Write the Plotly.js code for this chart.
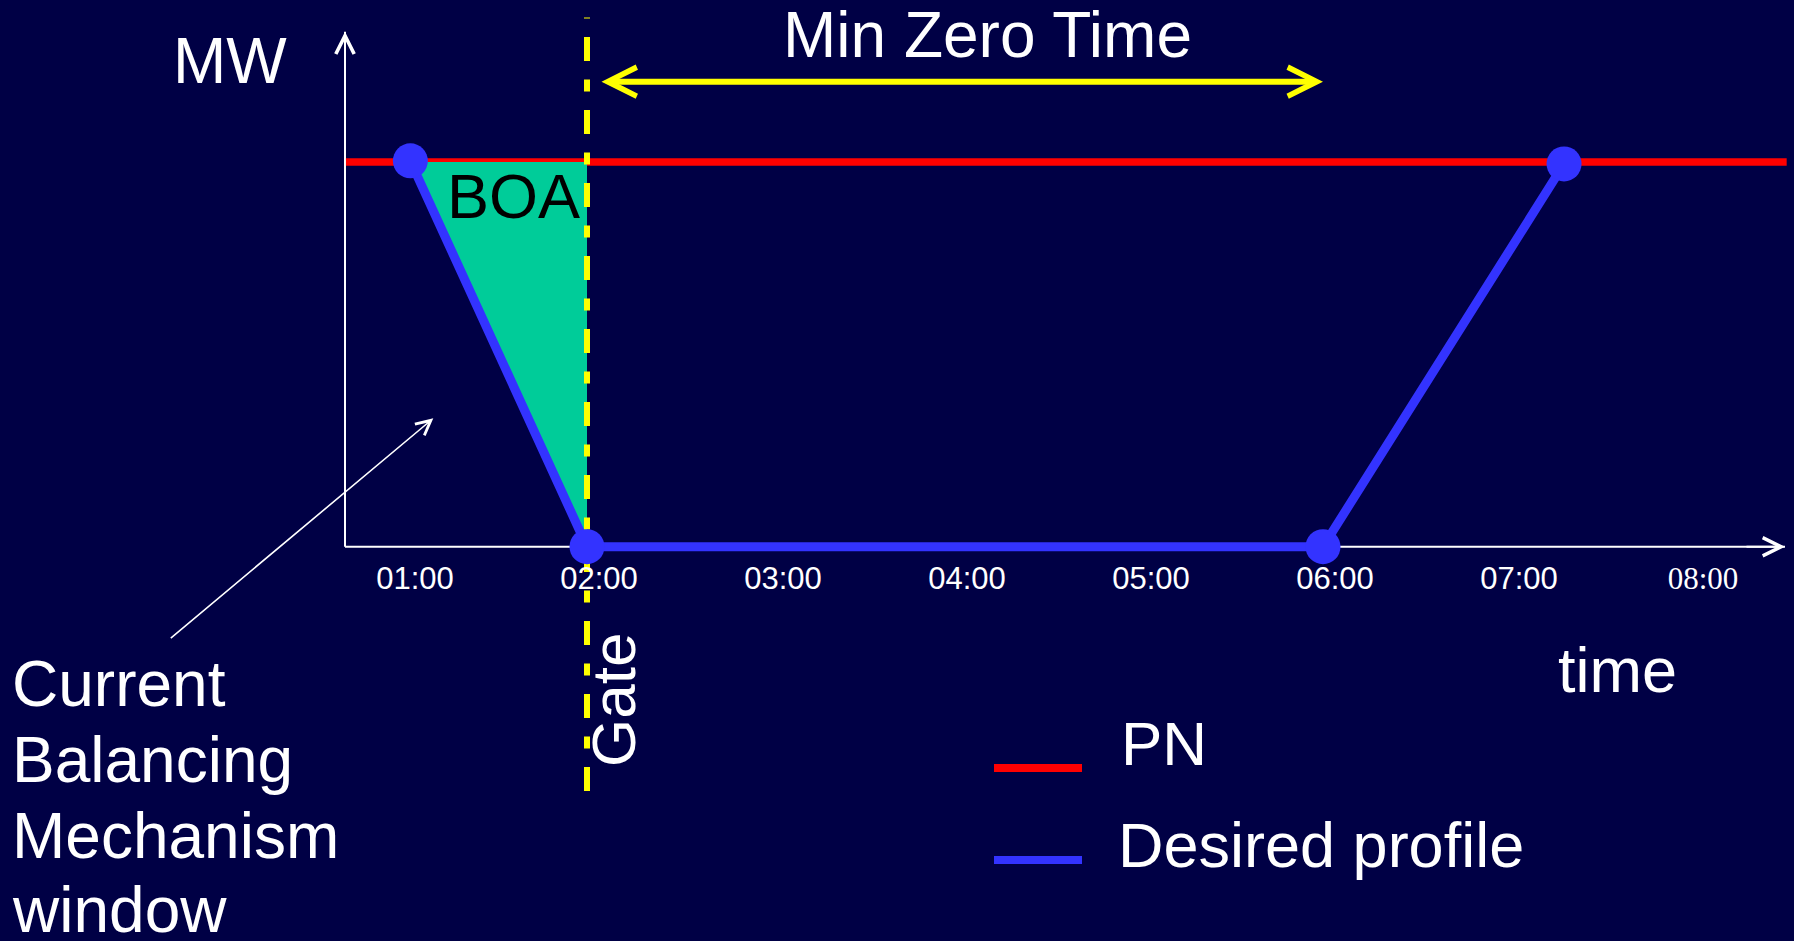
<!DOCTYPE html>
<html>
<head>
<meta charset="utf-8">
<script src="https://cdn.plot.ly/plotly-3.0.1.min.js"></script>
<style>
html,body{margin:0;padding:0;background:#000045;overflow:hidden;}
#chart{width:1794px;height:941px;}
</style>
</head>
<body>
<div id="chart"></div>
<script>
// ---------------- data ----------------
const tickHours  = [1, 2, 3, 4, 5, 6, 7, 8];
const tickLabels = ['01:00', '02:00', '03:00', '04:00', '05:00', '06:00', '07:00', '08:00'];

// Physical Notification (PN) level, MW
const pnHours = [0.69, 8.52];
const pnMW    = [100, 100];

// Desired profile (MW vs hours)
const profileHours = [1.04, 2, 6, 7.31];
const profileMW    = [100.3, 0, 0, 99.5];

// Gate closure and end of minimum zero time
const gateHour        = 2;
const minZeroEndHour  = 6;

// ---------------- layout helpers ----------------
const W = 1794, H = 941;
const PX = x => x / W;          // pixel -> paper x
const PY = y => 1 - y / H;      // pixel -> paper y

// axis scale (hours / MW) chosen so the whole figure is the plotting area
const xRange = [-1.1902, 8.5598];
const yRange = [-102.50, 142.11];
const yAt = py => yRange[1] - (py / H) * (yRange[1] - yRange[0]);
const xAt = px => xRange[0] + (px / W) * (xRange[1] - xRange[0]);

const axisHour = xAt(345);
const yTopMW   = yAt(31.7);
const xTipHour = xAt(1785);

const FONT = '"Liberation Sans", Arial, sans-serif';
const WHITE = '#FFFFFF';
const BLUE = '#3333FF';
const RED = '#FF0000';
const YELLOW = '#FFFF00';
const GREEN = '#00CC99';
const BG = '#000045';

const lastLabel = tickLabels.length - 1;
const tickText = tickLabels.map((t, i) =>
  i === lastLabel ? '<span style="font-family:\'Liberation Serif\', \'Times New Roman\', serif">' + t + '</span>' : t);

// ---------------- traces ----------------
const traces = [
  { // PN
    x: pnHours, y: pnMW, mode: 'lines', type: 'scatter',
    line: {color: RED, width: 7.5}, hoverinfo: 'skip', showlegend: false
  },
  { // BOA area between PN and desired profile up to the gate
    x: [profileHours[0], gateHour, profileHours[1]],
    y: [pnMW[0], pnMW[0], profileMW[1]],
    mode: 'lines', type: 'scatter', fill: 'toself', fillcolor: GREEN,
    line: {width: 0, color: GREEN}, hoverinfo: 'skip', showlegend: false
  },
  { // Gate line
    x: [gateHour, gateHour], y: [yAt(791), yAt(17.5)],
    mode: 'lines', type: 'scatter',
    line: {color: YELLOW, width: 6, dash: '24px,18.5px,12px,18.5px'},
    hoverinfo: 'skip', showlegend: false
  },
  { // Desired profile
    x: profileHours, y: profileMW, mode: 'lines+markers', type: 'scatter',
    line: {color: BLUE, width: 9},
    marker: {color: BLUE, size: 35, line: {width: 0}},
    hoverinfo: 'skip', showlegend: false, cliponaxis: false
  }
];

// ---------------- annotations ----------------
const txt = (text, x, y, size, opts) => Object.assign({
  text: text, xref: 'paper', yref: 'paper', x: PX(x), y: PY(y),
  xanchor: 'center', yanchor: 'middle', showarrow: false,
  font: {family: FONT, size: size, color: WHITE}
}, opts || {});

const annotations = [
  // y axis arrow head
  {x: axisHour, y: yTopMW, xref: 'x', yref: 'y', ax: 0, ay: 40,
   text: '', showarrow: true, arrowhead: 5, arrowsize: 1.8, arrowwidth: 2, arrowcolor: WHITE},
  // x axis arrow head
  {x: xTipHour, y: 0, xref: 'x', yref: 'y', ax: -40, ay: 0,
   text: '', showarrow: true, arrowhead: 5, arrowsize: 1.8, arrowwidth: 2, arrowcolor: WHITE},
  // Min Zero Time double arrow
  {x: minZeroEndHour, y: yAt(81.7), ax: gateHour, ay: yAt(81.7), xref: 'x', yref: 'y', axref: 'x', ayref: 'y',
   text: '', showarrow: true, arrowside: 'end+start', arrowhead: 5, startarrowhead: 5,
   arrowsize: 0.95, startarrowsize: 0.95, arrowwidth: 6, arrowcolor: YELLOW, startstandoff: 13},
  // pointer to the balancing mechanism window
  {x: xAt(433.3), y: yAt(418.3), xref: 'x', yref: 'y', ax: -264, ay: 221,
   text: '', showarrow: true, arrowhead: 5, arrowsize: 1.8, arrowwidth: 1.6, arrowcolor: WHITE},

  txt('MW', 229.5, 61.5, 64),
  txt('Min Zero Time', 987.5, 35, 64),
  txt('BOA', 513, 195.5, 63, {font: {family: FONT, size: 63, color: '#000000'}}),
  txt('Gate', 613, 700, 62, {textangle: -90}),
  txt('time', 1617.5, 670, 63),
  txt('PN', 1119, 743.5, 62, {xanchor: 'left'}),
  txt('Desired profile', 1116, 844.5, 63, {xanchor: 'left'}),
  txt('Current', 10, 684, 64, {xanchor: 'left'}),
  txt('Balancing', 10, 760, 64, {xanchor: 'left'}),
  txt('Mechanism', 10, 836, 64, {xanchor: 'left'}),
  txt('window', 10, 910, 64, {xanchor: 'left'})
];

// ---------------- axis lines (below traces) and legend samples ----------------
const shapes = [
  {type: 'line', xref: 'x', yref: 'y', x0: axisHour, x1: xTipHour, y0: 0, y1: 0,
   line: {color: WHITE, width: 2}, layer: 'below'},
  {type: 'line', xref: 'x', yref: 'y', x0: axisHour, x1: axisHour, y0: 0, y1: yTopMW,
   line: {color: WHITE, width: 2}, layer: 'below'},
  {type: 'line', xref: 'paper', yref: 'paper', x0: PX(994), x1: PX(1082), y0: PY(768), y1: PY(768),
   line: {color: RED, width: 8}},
  {type: 'line', xref: 'paper', yref: 'paper', x0: PX(994), x1: PX(1082), y0: PY(860), y1: PY(860),
   line: {color: BLUE, width: 8}}
];

const layout = {
  width: W, height: H,
  margin: {l: 0, r: 0, t: 0, b: 0, pad: 0},
  paper_bgcolor: BG, plot_bgcolor: BG,
  showlegend: false,
  xaxis: {
    range: xRange, showgrid: false, zeroline: false, showline: false, ticks: '',
    tickmode: 'array', tickvals: tickHours, ticktext: tickText,
    tickfont: {family: FONT, size: 31, color: WHITE},
    anchor: 'free', position: 1 - 546.7 / H,
    ticklabelshift: 12, ticklabelstandoff: 10, fixedrange: true
  },
  yaxis: {
    range: yRange, showgrid: false, zeroline: false, showline: false,
    showticklabels: false, ticks: '', fixedrange: true
  },
  annotations: annotations,
  shapes: shapes
};

Plotly.newPlot('chart', traces, layout, {displayModeBar: false, staticPlot: true});
</script>
</body>
</html>
